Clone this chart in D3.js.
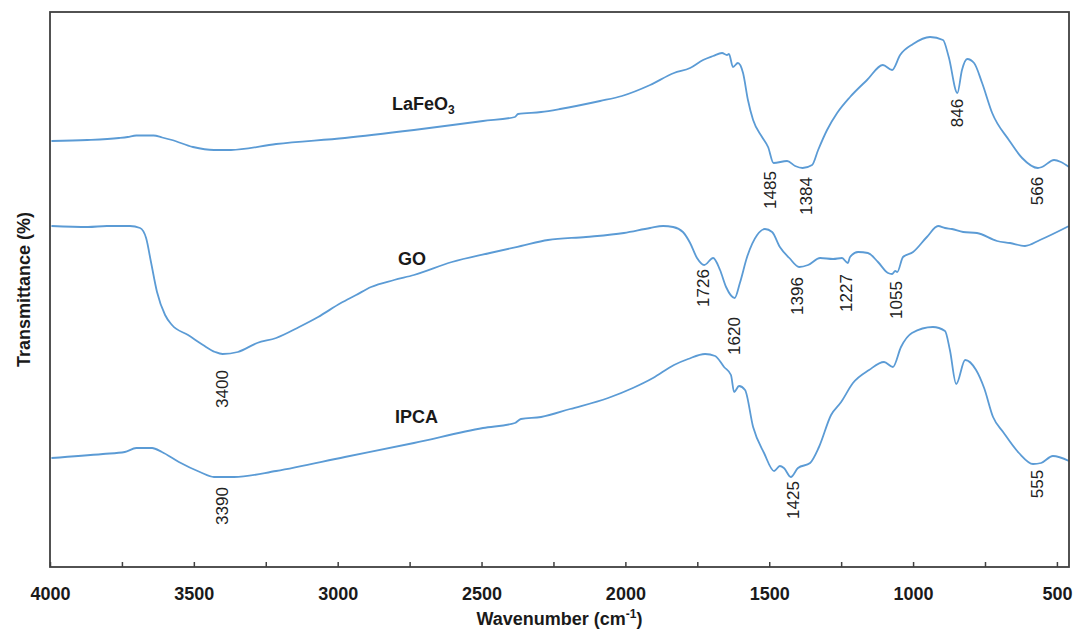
<!DOCTYPE html>
<html>
<head>
<meta charset="utf-8">
<script src="https://cdn.jsdelivr.net/npm/d3@7"></script>
<style>
  html, body { margin: 0; padding: 0; background: #fff; }
  svg { display: block; font-family: Arial, "Liberation Sans", sans-serif; }
</style>
</head>
<body>
<svg id="chart" width="1076" height="631"></svg>
<script>
// ---- Data (wavenumber cm^-1, transmittance in arbitrary offset units) ----
const laFeO3Data = [[3995,85.2],[3870,85.4],[3760,85.8],[3730,86.0],[3700,86.3],[3640,86.3],[3610,85.9],[3576,85.4],[3503,84.0],[3430,83.4],[3371,83.4],[3214,84.6],[2975,85.8],[2735,87.4],[2495,89.2],[2384,90.0],[2373,90.6],[2293,91.0],[2227,91.6],[2088,93.2],[2012,94.2],[1914,96.4],[1831,98.8],[1775,99.8],[1730,101.4],[1695,102.2],[1664,102.8],[1647,102.4],[1640,102.6],[1626,100.0],[1609,100.8],[1591,98.8],[1574,93.4],[1556,89.4],[1525,86.0],[1504,84.0],[1485,80.8],[1438,81.2],[1410,80.2],[1384,79.8],[1351,80.4],[1330,83.4],[1299,87.4],[1264,90.8],[1219,94.0],[1160,97.4],[1105,100.4],[1073,99.4],[1045,102.4],[1000,104.6],[941,106.0],[896,105.4],[876,102.0],[846,94.8],[830,99.4],[812,101.6],[788,100.8],[760,96.8],[725,90.8],[667,85.4],[621,81.8],[566,79.8],[552,80.0],[510,81.4],[486,81.0],[458,80.0]];

const goData = [[3995,68.2],[3868,68.0],[3802,68.2],[3722,68.2],[3687,67.8],[3666,65.8],[3649,61.0],[3628,55.0],[3600,50.4],[3576,48.4],[3520,46.4],[3468,44.4],[3426,43.0],[3400,42.6],[3347,43.0],[3280,44.8],[3214,45.8],[3134,48.0],[3068,50.0],[2989,52.8],[2936,54.4],[2884,56.0],[2804,57.4],[2735,58.4],[2603,61.0],[2471,62.8],[2363,64.2],[2269,65.4],[2137,66.0],[2005,66.8],[1914,67.8],[1869,68.2],[1834,68.0],[1800,67.0],[1775,64.8],[1751,61.8],[1726,60.4],[1695,61.8],[1671,59.4],[1650,56.0],[1620,53.8],[1602,56.8],[1577,62.0],[1542,66.4],[1515,67.6],[1490,67.0],[1463,64.0],[1430,61.8],[1396,60.0],[1365,60.4],[1323,61.8],[1278,61.6],[1247,61.8],[1227,60.8],[1219,62.0],[1191,63.0],[1157,62.8],[1122,61.0],[1087,58.8],[1073,58.6],[1062,59.2],[1055,59.0],[1035,62.0],[1000,63.0],[952,66.0],[913,68.2],[889,67.8],[865,67.6],[826,67.0],[778,66.8],[708,65.2],[663,64.8],[611,64.2],[559,65.4],[458,68.2]];

const ipcaData = [[3995,21.8],[3816,22.6],[3740,23.0],[3700,23.8],[3645,23.8],[3611,23.0],[3552,21.0],[3479,19.0],[3430,18.0],[3360,18.0],[3214,19.2],[2975,22.0],[2735,24.8],[2495,27.8],[2384,28.8],[2363,29.6],[2293,30.0],[2192,31.6],[2060,33.8],[1974,35.8],[1904,37.8],[1831,40.4],[1782,41.6],[1723,42.6],[1688,42.2],[1657,40.0],[1633,38.4],[1622,35.0],[1605,36.2],[1584,35.4],[1556,28.0],[1518,22.8],[1483,19.2],[1463,20.2],[1449,19.8],[1425,18.0],[1400,19.8],[1358,20.8],[1327,24.0],[1285,30.4],[1250,33.0],[1209,36.8],[1153,39.4],[1101,41.0],[1070,40.0],[1042,44.0],[1004,46.8],[931,48.0],[889,47.2],[872,43.4],[850,36.6],[819,41.4],[781,39.4],[753,35.8],[722,30.0],[687,27.0],[632,22.8],[583,20.6],[555,20.8],[514,22.2],[458,21.2]];

// Series names and where they are written (wavenumber, value)
const seriesNames = ["LaFeO", "GO", "IPCA"];
const seriesNameAnchors = [[2811, 91.4], [2790, 60.4], [2801, 28.8]];

// Peak annotations: [text, wavenumber position, value position]
const peakLabels = [
  ["1485", 1494, 75.4], ["1384", 1372, 74.2], ["846", 847, 90.8], ["566", 566, 75.2],
  ["1726", 1730, 55.8], ["1620", 1619, 46.2], ["1396", 1403, 54.2], ["1227", 1230, 54.8],
  ["1055", 1059, 53.4], ["3400", 3402, 35.6],
  ["3390", 3402, 12.2], ["1425", 1414, 13.4], ["555", 569, 16.6]
];

const majorTicks = [4000, 3500, 3000, 2500, 2000, 1500, 1000, 500];
const minorTicks = [3750, 3250, 2750, 2250, 1750, 1250, 750];

// ---- Layout ----
const svg = d3.select("#chart");
const L = 50, R = 1069, T = 12, B = 567;
const x = d3.scaleLinear().domain([4000, 458]).range([L, R]);
const y = d3.scaleLinear().domain([0, 111]).range([B, T]);

const lineColor = "#5B9BD5";
const textColor = "#1a1a1a";

// Curves
const line = d3.line().x(d => x(d[0])).y(d => y(d[1])).curve(d3.curveMonotoneX);
[laFeO3Data, goData, ipcaData].forEach(data => {
  svg.append("path").datum(data)
    .attr("d", line)
    .attr("fill", "none")
    .attr("stroke", lineColor)
    .attr("stroke-width", 1.8)
    .attr("stroke-linejoin", "round");
});

// Axes
const xAxis = d3.axisBottom(x).tickValues(majorTicks).tickSizeInner(-5).tickSizeOuter(0).tickPadding(20)
  .tickFormat(d3.format("d"));
const gx = svg.append("g").attr("transform", `translate(0,${B})`).call(xAxis);
gx.selectAll("text").attr("font-size", 18).attr("font-weight", "bold").attr("fill", textColor)
  .attr("font-family", "Arial, 'Liberation Sans', sans-serif");
gx.selectAll("line").attr("stroke", "#404040").attr("stroke-width", 1.5);
gx.select(".domain").remove();

const xMinor = d3.axisBottom(x).tickValues(minorTicks).tickSizeInner(-5).tickSizeOuter(0).tickFormat("");
const gm = svg.append("g").attr("transform", `translate(0,${B})`).call(xMinor);
gm.selectAll("line").attr("stroke", "#404040").attr("stroke-width", 1.5);
gm.select(".domain").remove();

// Frame
svg.append("rect").attr("x", L).attr("y", T).attr("width", R - L).attr("height", B - T)
  .attr("fill", "none").attr("stroke", "#404040").attr("stroke-width", 1.8);

// Axis titles
const xt = svg.append("text").attr("x", (L + R) / 2).attr("y", 625).attr("text-anchor", "middle")
  .attr("font-size", 18).attr("font-weight", "bold").attr("fill", textColor);
xt.append("tspan").text("Wavenumber (cm");
xt.append("tspan").attr("font-size", 12).attr("dy", -7).text("-1");
xt.append("tspan").attr("dy", 7).text(")");

svg.append("text").attr("transform", `translate(30,${(T + B) / 2}) rotate(-90)`)
  .attr("text-anchor", "middle").attr("font-size", 18).attr("font-weight", "bold")
  .attr("fill", textColor).text("Transmittance (%)");

// Series names
seriesNames.forEach((name, i) => {
  const t = svg.append("text").attr("x", x(seriesNameAnchors[i][0])).attr("y", y(seriesNameAnchors[i][1]))
    .attr("font-size", 18).attr("font-weight", "bold").attr("fill", textColor);
  t.append("tspan").text(name);
  if (i === 0) t.append("tspan").attr("font-size", 12).attr("dy", 4).text("3");
});

// Peak labels
svg.selectAll(".peak").data(peakLabels).enter().append("text")
  .attr("class", "peak")
  .attr("transform", d => `translate(${x(d[1])},${y(d[2])}) rotate(-90)`)
  .attr("text-anchor", "middle").attr("dominant-baseline", "central")
  .attr("font-size", 17).attr("fill", "#222").text(d => d[0]);
</script>
</body>
</html>
